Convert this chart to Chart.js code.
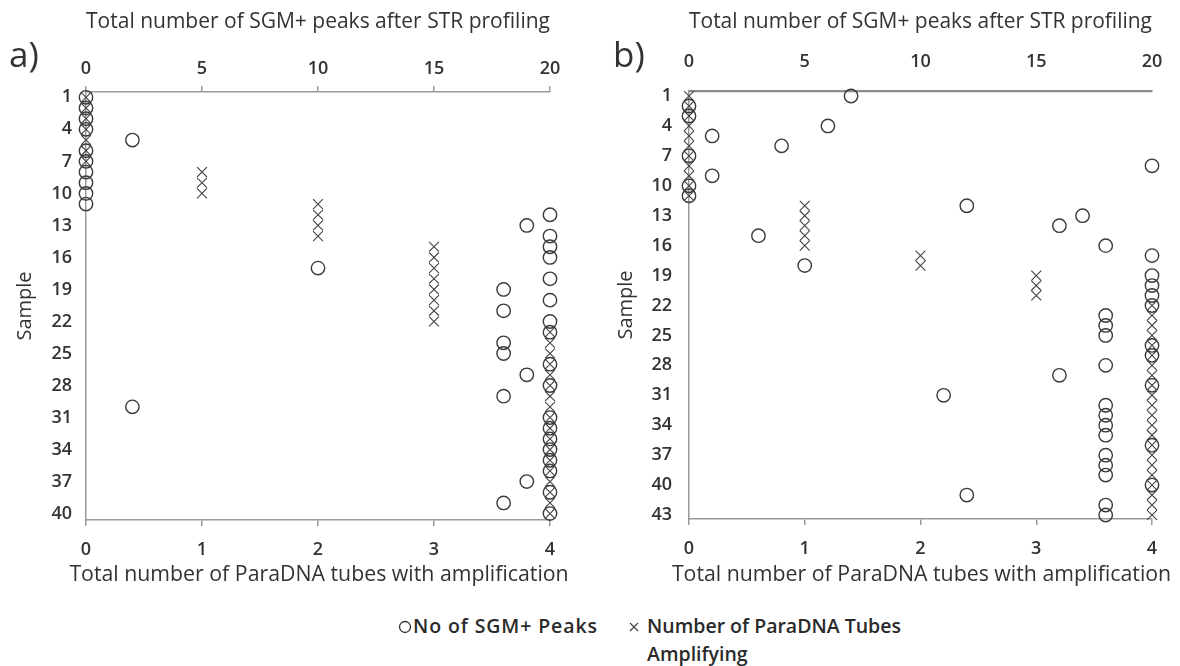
<!DOCTYPE html>
<html>
<head>
<meta charset="utf-8">
<script src="https://cdn.jsdelivr.net/npm/chart.js@4.4.1/dist/chart.umd.min.js"></script>
<style>
  body { margin: 0; background: #fff; font-family: "Open Sans", sans-serif; }
  #wrap { position: relative; width: 1180px; height: 666px; overflow: hidden; }
  canvas { position: absolute; top: 0; }
  .panel { position: absolute; top: 36px; font-size: 35px; color: #333; line-height: 1; }
  .leg { position: absolute; font-size: 19.5px; font-weight: 600; color: #2a2a2a; line-height: 1; }
  .mark { position: absolute; }
</style>
</head>
<body>
<div id="wrap">
  <canvas id="chartA" width="590" height="600" style="left:0"></canvas>
  <canvas id="chartB" width="590" height="600" style="left:590px"></canvas>
  <div class="panel" style="left:9px">a)</div>
  <div class="panel" style="left:613px">b)</div>

  <svg class="mark" style="left:398px;top:620px" width="14" height="14"><circle cx="7" cy="7" r="5.5" fill="none" stroke="#333" stroke-width="1.3"/></svg>
  <div class="leg" style="left:413px;top:616px;letter-spacing:0.9px">No of SGM+ Peaks</div>
  <svg class="mark" style="left:628px;top:621px" width="12" height="12"><path d="M2 2L10 10M10 2L2 10" stroke="#444" stroke-width="1.2"/></svg>
  <div class="leg" style="left:647px;top:616px">Number of ParaDNA Tubes</div>
  <div class="leg" style="left:647px;top:644px">Amplifying</div>
</div>
<script>
"use strict";

// 1: data
// tick labels
const paradnaTicks = [0, 1, 2, 3, 4];
const sgmTicks = [0, 5, 10, 15, 20];
const sampleTicksA = [1, 4, 7, 10, 13, 16, 19, 22, 25, 28, 31, 34, 37, 40];
const sampleTicksB = [1, 4, 7, 10, 13, 16, 19, 22, 25, 28, 31, 34, 37, 40, 43];

// panel a) - samples 1..40
const samplesA = [1, 2, 3, 4, 5, 6, 7, 8, 9, 10, 11, 12, 13, 14, 15, 16, 17, 18, 19, 20,
  21, 22, 23, 24, 25, 26, 27, 28, 29, 30, 31, 32, 33, 34, 35, 36, 37, 38, 39, 40];
const sgmPeaksA = [0, 0, 0, 0, 2, 0, 0, 0, 0, 0, 0, 20, 19, 20, 20, 20, 10, 20, 18, 20,
  18, 20, 20, 18, 18, 20, 19, 20, 18, 2, 20, 20, 20, 20, 20, 20, 19, 20, 18, 20];
const paraTubesA = [0, 0, 0, 0, 0, 0, 0, 1, 1, 1, 2, 2, 2, 2, 3, 3, 3, 3, 3, 3,
  3, 3, 4, 4, 4, 4, 4, 4, 4, 4, 4, 4, 4, 4, 4, 4, 4, 4, 4, 4];

// panel b) - samples 1..43
const samplesB = [1, 2, 3, 4, 5, 6, 7, 8, 9, 10, 11, 12, 13, 14, 15, 16, 17, 18, 19, 20,
  21, 22, 23, 24, 25, 26, 27, 28, 29, 30, 31, 32, 33, 34, 35, 36, 37, 38, 39, 40, 41, 42, 43];
const sgmPeaksB = [7, 0, 0, 6, 1, 4, 0, 20, 1, 0, 0, 12, 17, 16, 3, 18, 20, 5, 20, 20,
  20, 20, 18, 18, 18, 20, 20, 18, 16, 20, 11, 18, 18, 18, 18, 20, 18, 18, 18, 20, 12, 18, 18];
const paraTubesB = [0, 0, 0, 0, 0, 0, 0, 0, 0, 0, 0, 1, 1, 1, 1, 1, 2, 2, 3, 3,
  3, 4, 4, 4, 4, 4, 4, 4, 4, 4, 4, 4, 4, 4, 4, 4, 4, 4, 4, 4, 4, 4, 4];

const bottomTitle = 'Total number of ParaDNA tubes with amplification';

// 2: helpers
const FONT = "'Open Sans', sans-serif";
const TEXT = '#333';
const AXIS = '#9a9a9a';
const TICK_FONT = { family: FONT, size: 18, weight: '600' };

function toPoints(values, samples) {
  return samples.map((s, i) => ({ x: values[i], y: s }));
}

function fixedTicks(list) {
  return scale => { scale.ticks = list.map(v => ({ value: v })); };
}

// the built-in scale title gets squeezed to the axis width,
// the bottom one is wider than the plot in the original so draw it here
const wideTitle = {
  id: 'wideTitle',
  afterDraw(chart) {
    const { ctx, chartArea } = chart;
    ctx.save();
    ctx.font = '21.3px ' + FONT;
    ctx.fillStyle = TEXT;
    ctx.textAlign = 'center';
    ctx.textBaseline = 'middle';
    ctx.fillText(bottomTitle, (chartArea.left + chartArea.right) / 2 + 1, 575);
    ctx.restore();
  }
};

// 3: create a chart for one panel
function appendPanel(id, p) {
  const ctx = document.getElementById(id);
  return new Chart(ctx, {
    type: 'scatter',
    data: {
      datasets: [{
        label: 'No of SGM+ Peaks',
        data: toPoints(p.sgm, p.samples),
        xAxisID: 'x2',
        pointStyle: 'circle',
        pointRadius: 6.7,
        borderWidth: 1.4,
        borderColor: '#3a3a3a',
        backgroundColor: 'rgba(0,0,0,0)',
        clip: false
      }, {
        label: 'Number of ParaDNA Tubes Amplifying',
        data: toPoints(p.tubes, p.samples),
        xAxisID: 'x',
        pointStyle: 'crossRot',
        pointRadius: 7,
        borderWidth: 1.1,
        borderColor: '#444',
        clip: false
      }]
    },
    plugins: [wideTitle],
    options: {
      responsive: false,
      animation: false,
      layout: { padding: { left: 0, right: p.right, top: 0, bottom: 0 } },
      plugins: { legend: { display: false }, tooltip: { enabled: false } },
      scales: {
        x: {
          type: 'linear', position: 'bottom', min: 0, max: 4,
          afterBuildTicks: fixedTicks(paradnaTicks),
          afterFit: s => { s.height = p.bottomH; },
          grid: { drawOnChartArea: false, drawTicks: true, tickLength: 6, color: AXIS, lineWidth: 1.5 },
          border: { color: AXIS, width: 1.5 },
          ticks: { font: TICK_FONT, color: TEXT, padding: 13 },
          title: { display: false }
        },
        x2: {
          type: 'linear', position: 'top', min: 0, max: 20,
          afterBuildTicks: fixedTicks(sgmTicks),
          afterFit: s => { s.height = p.top; },
          grid: { display: p.topTicks, drawOnChartArea: false, drawTicks: true, tickLength: 6, color: AXIS, lineWidth: 1.5 },
          border: { color: p.topColor, width: p.topWidth },
          ticks: { font: TICK_FONT, color: TEXT, padding: p.topTicks ? 6 : 12 },
          title: {
            display: true, text: 'Total number of SGM+ peaks after STR profiling',
            font: { family: FONT, size: 21 }, color: TEXT, padding: { top: 9, bottom: 0 }
          }
        },
        y: {
          type: 'linear', reverse: true, min: 0.5, max: p.yMax,
          afterBuildTicks: fixedTicks(p.yTicks),
          afterFit: s => { s.width = p.left; },
          grid: { display: false },
          border: { color: AXIS, width: 1.5 },
          ticks: { font: TICK_FONT, color: TEXT, padding: p.yPad },
          title: {
            display: true, text: 'Sample',
            font: { family: FONT, size: 20 }, color: TEXT, padding: { top: p.titleX, bottom: 0 }
          }
        }
      }
    }
  });
}

appendPanel('chartA', {
  samples: samplesA, sgm: sgmPeaksA, tubes: paraTubesA, yTicks: sampleTicksA, yMax: 40.6,
  left: 86, right: 40, top: 92, bottomH: 80, topTicks: true, topColor: AXIS, topWidth: 1.5,
  yPad: 6, titleX: 13
});

appendPanel('chartB', {
  samples: samplesB, sgm: sgmPeaksB, tubes: paraTubesB, yTicks: sampleTicksB, yMax: 43.4,
  left: 99, right: 28, top: 91, bottomH: 81, topTicks: false, topColor: '#8a8a8a', topWidth: 2.2,
  yPad: 9, titleX: 24
});
</script>
</body>
</html>
